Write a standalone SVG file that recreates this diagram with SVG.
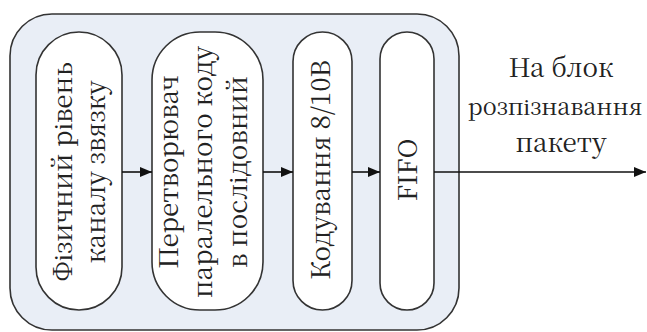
<svg xmlns="http://www.w3.org/2000/svg" width="647" height="332" viewBox="0 0 647 332">
<defs>
<marker id="ah" markerWidth="12" markerHeight="10" refX="12" refY="5" orient="auto" markerUnits="userSpaceOnUse">
<path d="M0,0 L12,5 L0,10 Z" fill="#111"/>
</marker>
<style>
.outer{fill:#e9eef6;stroke:#333;stroke-width:1.6}
.node{fill:#ffffff;stroke:#333;stroke-width:1.6}
.t{font-family:"Noto Serif CJK SC","Liberation Serif",serif;font-size:26px;fill:#222}
.c{stroke:#111;stroke-width:1.6;fill:none;marker-end:url(#ah)}
</style>
</defs>
<rect width="647" height="332" fill="#ffffff"/>
<g id="container">
<rect class="outer" x="10" y="14" width="449" height="316" rx="42" ry="42"/>
</g>
<g id="node1">
<rect class="node" x="36" y="32" width="86" height="278" rx="43" ry="43"/>
<text class="t" text-anchor="middle" transform="translate(72,172) rotate(-90)">Фізичний рівень</text>
<text class="t" text-anchor="middle" transform="translate(105,172) rotate(-90)">каналу звязку</text>
</g>
<g id="node2">
<rect class="node" x="152" y="32" width="111" height="278" rx="48" ry="48"/>
<text class="t" text-anchor="middle" transform="translate(178,172) rotate(-90)">Перетворювач</text>
<text class="t" text-anchor="middle" transform="translate(212,172) rotate(-90)">паралельного коду</text>
<text class="t" text-anchor="middle" transform="translate(247,172) rotate(-90)">в послідовний</text>
</g>
<g id="node3">
<rect class="node" x="293" y="32" width="59" height="278" rx="29.5" ry="29.5"/>
<text class="t" text-anchor="middle" transform="translate(330,170) rotate(-90)">Кодування 8/10В</text>
</g>
<g id="node4">
<rect class="node" x="380" y="32" width="54" height="278" rx="27" ry="27"/>
<text class="t" text-anchor="middle" transform="translate(417,170) rotate(-90)">FIFO</text>
</g>
<g id="label">
<text class="t" text-anchor="middle" x="561" y="77">На блок</text>
<text class="t" text-anchor="middle" x="555" y="115" style="font-size:23.5px">розпізнавання</text>
<text class="t" text-anchor="middle" x="561" y="152">пакету</text>
</g>
<g id="connectors">
<line class="c" x1="122" y1="172" x2="152" y2="172"/>
<line class="c" x1="263" y1="172" x2="293" y2="172"/>
<line class="c" x1="352" y1="172" x2="380" y2="172"/>
<line class="c" x1="434" y1="172" x2="646" y2="172"/>
</g>
</svg>
